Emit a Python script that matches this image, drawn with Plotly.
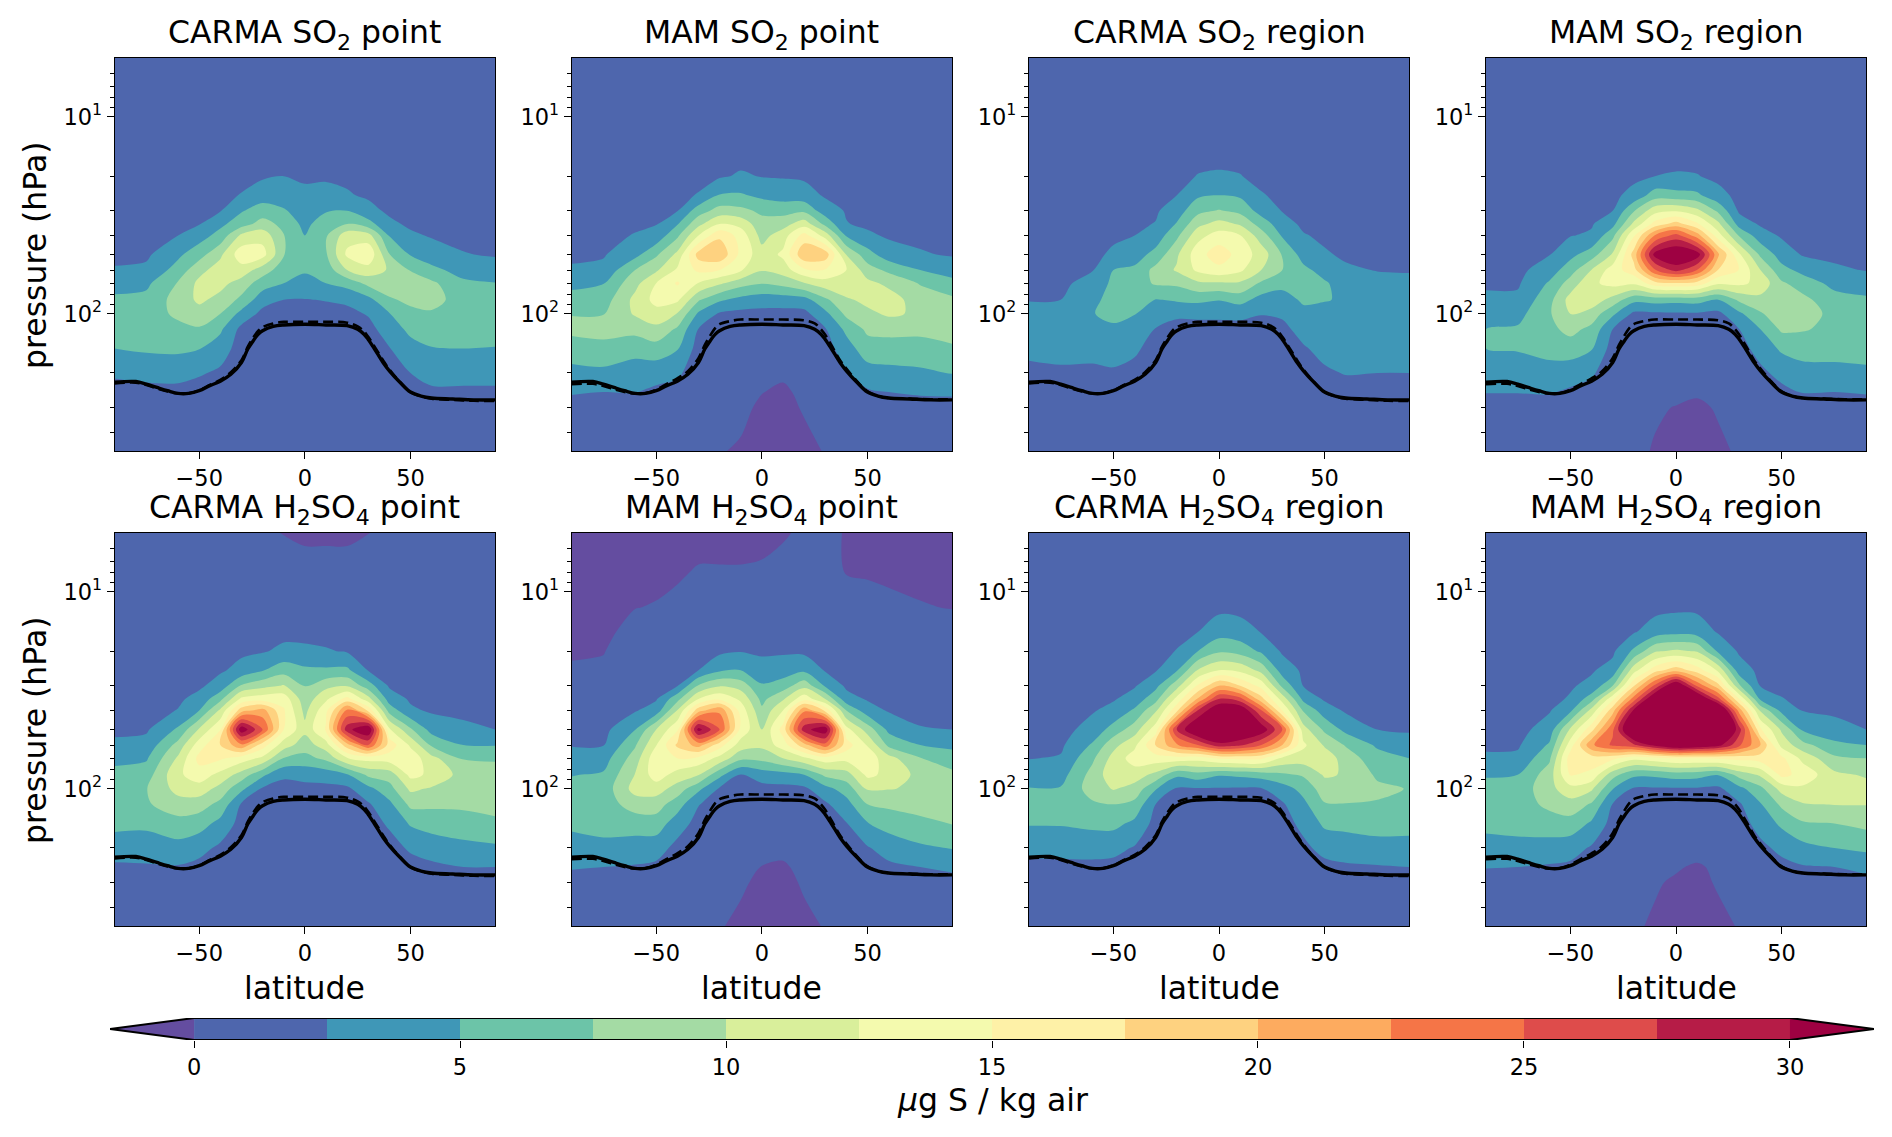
import math
import numpy as np
import plotly.graph_objects as go

LAT = [-90, -75, -60, -50, -40, -30, -20, -10, 0, 10, 20, 30, 40, 50, 60, 75, 90]
PRESSURE = [5, 8, 12, 16, 20, 25, 30, 35, 40, 50, 60, 70, 85, 100, 120, 150, 200, 250, 300, 500]
TITLES = ["CARMA SO<sub>2</sub> point", "MAM SO<sub>2</sub> point", "CARMA SO<sub>2</sub> region", "MAM SO<sub>2</sub> region",
          "CARMA H<sub>2</sub>SO<sub>4</sub> point", "MAM H<sub>2</sub>SO<sub>4</sub> point",
          "CARMA H<sub>2</sub>SO<sub>4</sub> region", "MAM H<sub>2</sub>SO<sub>4</sub> region"]
BAND_COLORS = ["#644da0", "#4e66ad", "#3f97b7", "#6cc4a8", "#a4dba4", "#d9ef9b", "#f4faae",
               "#fef1a7", "#fed280", "#fdab5f", "#f57547", "#de4c4b", "#b61c47", "#9e0142"]
CBAR_TICKS = [0, 5, 10, 15, 20, 25, 30]

TROP_LAT = [-90, -80, -75, -70, -65, -60, -55, -50, -45, -40, -35, -30, -27, -25, -22, -20, -15, -10, 0,
            10, 20, 25, 28, 30, 33, 37, 40, 45, 50, 55, 60, 70, 80, 90]
TROP_SOLID = [223, 221, 228, 237, 246, 254, 254, 246, 232, 220, 203, 177, 151, 140, 127, 122, 116, 114, 113,
              114, 115, 120, 127, 135, 151, 177, 195, 223, 250, 262, 268, 271, 274, 274]
TROP_DASH_CARMA = [226, 224, 230, 240, 248, 254, 254, 245, 230, 217, 198, 172, 147, 135, 122, 117, 112, 110, 110,
                   110, 111, 116, 123, 131, 147, 172, 192, 222, 250, 263, 270, 274, 277, 277]
TROP_DASH_MAM = [228, 227, 233, 242, 250, 255, 253, 243, 227, 213, 196, 168, 144, 132, 118, 113, 109, 107, 107,
                 107, 108, 112, 120, 128, 145, 172, 190, 220, 248, 262, 268, 270, 272, 272]

# Each inner list: one latitude column, values at PRESSURE levels
CARMA_SO2_POINT = [
 [.2,.2,.3,.4,.5,.7,1,1.2,1.5,2,2.7,4,5.5,6.2,6,5,2.9,1.5,1,.5],
 [.2,.2,.3,.4,.5,.7,1,1.2,1.6,2.1,3,4.5,5.7,6.3,6.2,5.4,3.2,1.8,1,.5],
 [.1,.2,.3,.5,.8,1.2,1.6,2,2.5,4.5,6,7.7,8.5,8,6.8,5.5,3.3,1.8,1,.5],
 [.1,.3,.5,.8,1.2,1.7,2.1,2.4,3.9,6.5,9.2,10.6,10.5,9,7.2,5.1,2.8,1.3,.9,.4],
 [.1,.4,.6,1,1.5,2,2.4,4.4,5.9,9.5,11.2,10.8,9.2,7.5,5.4,3.8,2,1,.7,.3],
 [.1,.4,.8,1.3,1.9,2.6,4.8,6.4,10.5,14,11.5,8.9,6.9,4.2,1.8,1.3,1.2,1,.7,.3],
 [.1,.5,1,1.6,2.2,3.8,6.2,8.5,11.5,13.5,8.7,6.2,3.5,1.8,1.2,1.2,1.1,.9,.7,.3],
 [.1,.5,1,1.6,2.5,3.5,5.3,6.8,7.6,7.6,6.2,5,2.5,1.8,1.3,1.2,1.1,.9,.7,.3],
 [.1,.5,1,1.7,2.3,2.8,3.6,4.3,5,6,5.3,4.1,2.4,1.8,1.3,1.2,1.1,.9,.6,.2],
 [.1,.5,1,1.6,2.2,3.2,4.8,6.5,7.2,7.2,6,5,2.6,1.8,1.3,1.2,1.1,.9,.6,.2],
 [.1,.5,.9,1.5,2.1,2.7,5,7.5,11.5,13,10,5.9,3,1.8,1.3,1.2,1.1,.9,.6,.2],
 [.1,.4,.8,1.2,1.7,2.2,3.2,6,11,14.5,11.5,8.2,4.2,2.7,1.7,1.3,1.1,.9,.6,.2],
 [.1,.3,.6,1,1.4,1.8,2.1,3,4.8,7.6,9.7,8.8,7.2,4.9,3.7,2.4,1.4,1,.6,.2],
 [.1,.3,.5,.8,1.1,1.5,1.8,2.1,2.9,4.8,7.4,8.3,8,6.9,5.6,4.1,2.5,1.3,.7,.2],
 [.1,.3,.5,.8,1,1.4,1.7,2,2.3,3.6,5.7,8,8.3,7.2,6,4.9,3.3,2.1,1.1,.3],
 [.1,.2,.4,.6,.8,1.1,1.4,1.7,2,2.6,4,5.5,6.5,6.8,6.2,5,3.3,2.1,1,.3],
 [.1,.2,.3,.5,.7,1,1.2,1.5,1.8,2.3,3.6,5.1,6.2,6.5,6,4.9,3.3,2.1,1,.3],
]
MAM_SO2_POINT = [
 [.2,.3,.4,.6,.8,1.1,1.4,1.6,1.9,2.2,2.7,4.3,6,7.4,8.1,6.4,4.2,2.7,1.6,.5],
 [.2,.3,.4,.6,.8,1.1,1.4,1.7,2,2.3,3.1,4.9,6.3,7.4,8.3,6.8,4.4,2.5,1.6,.5],
 [.2,.3,.5,.7,1,1.4,1.8,2.2,2.6,4.2,7.5,9.2,10.7,10.3,8.2,6.1,3.5,2.6,1.5,.4],
 [.2,.3,.6,.9,1.3,1.8,2.2,2.4,3.3,7.1,9.6,12.5,13.3,11.6,9.3,6.5,3.4,2,1.3,.3],
 [.2,.4,.7,1.1,1.6,2.1,2.4,4.8,7,10.6,12.9,15.3,13,9.9,7.1,5.2,2.9,1.7,1.1,.2],
 [.2,.5,.8,1.3,2,2.6,6.3,9.3,12.5,18.5,15.5,12.4,7.8,4.6,2.4,1.5,1.2,.9,.6,.1],
 [.2,.5,1,1.7,2.2,5.2,8.5,12.5,17,19.5,15,10.4,5.4,2.2,1.4,1.2,1,.8,.5,0.1],
 [.2,.5,1,1.8,2.8,5.3,8.2,11.7,14,14.3,12.8,8.5,4.2,1.8,1.3,1.2,1,.8,.4,-.2],
 [.2,.5,1,1.8,2.4,4.4,7,8.4,9.1,11,10.2,7.6,3.6,1.8,1.2,1,.9,.05,-.3,-.7],
 [.2,.5,1,1.6,2.3,3.9,6.6,9,11.3,13,11.2,8.3,3.7,1.7,1.2,1,.3,-.3,-.5,-.9],
 [.2,.5,.9,1.5,2.1,3.6,7,11.4,16,19.5,14.5,9.9,4,1.8,1.2,.9,.6,.4,.15,-.5],
 [.2,.4,.8,1.2,1.7,2.2,3.7,6.8,11.4,19,14.8,11.4,7,4.3,2.3,1.4,1,.7,.4,.1],
 [.2,.3,.6,1,1.4,1.9,2.3,2.6,4.7,9.9,12.5,12.1,9.6,8.1,5.6,3.9,2.3,1.2,.7,.2],
 [.2,.3,.5,.8,1.1,1.5,1.8,2.1,2.9,6,8.7,10.6,10.7,9.4,8,6.4,3.9,2.2,1.2,.3],
 [.2,.3,.5,.7,1,1.3,1.6,1.9,2.2,3.6,6.9,9.5,11,10.4,8.3,6.4,4.3,2.5,1.4,.3],
 [.2,.3,.4,.6,.9,1.2,1.4,1.7,2,2.7,5,7.3,8.9,9.6,8.2,6.4,4.6,2.8,1.5,.3],
 [.2,.3,.4,.6,.8,1.1,1.3,1.6,1.8,2.3,3.9,5.8,8,9,8.4,7.2,5.1,2.9,1.5,.3],
]
CARMA_SO2_REGION = [
 [.2,.2,.3,.4,.5,.6,.8,1,1.1,1.4,1.7,2,2.4,3.3,4.1,3.1,1.9,1.3,.9,.4],
 [.2,.2,.3,.4,.5,.6,.8,1,1.1,1.4,1.8,2.1,2.5,3.5,4.2,3.3,2.1,1.4,.9,.4],
 [.2,.2,.3,.4,.5,.7,.9,1.2,1.4,1.8,2.4,3.2,4.3,4.9,4.4,3.3,2,1.2,.9,.4],
 [.2,.2,.4,.5,.7,1,1.3,1.6,2,3,5,5.6,6,5.6,4.6,3.5,2.2,1.3,.8,.3],
 [.2,.3,.5,.7,.9,1.3,1.7,2.1,2.5,3.9,5.5,6.3,6.6,5.1,4,2.9,1.8,1.1,.7,.2],
 [.2,.3,.6,.9,1.3,1.8,2.2,2.6,3.6,5.8,8.3,7.8,4.9,3.5,2.4,1.6,1.2,.9,.6,.2],
 [.2,.4,.8,1.3,1.8,2.5,3.8,5.2,6.9,9.6,10.3,8,5.3,3,1.6,1.3,1.2,1,.7,.2],
 [.2,.5,1,1.8,2.6,4.6,6.8,9.3,11.6,14,13,9.5,5.6,3,1.7,1.4,1.2,1,.7,.2],
 [.2,.5,1.1,1.9,2.8,5,7.7,10.9,13.6,16.4,14.3,9.6,5.1,3,1.7,1.4,1.2,1,.7,.2],
 [.2,.5,1,1.8,2.6,4.6,6.8,9.7,12.6,14,13,9.6,6,3,1.8,1.4,1.2,1,.7,.2],
 [.2,.4,.8,1.3,1.8,2.7,4,6.4,8.7,11.4,10,7.1,4,2.6,1.5,1.3,1.1,.9,.7,.2],
 [.2,.3,.6,1,1.4,1.9,2.4,3.6,4.7,7.3,7.5,5.8,3.9,2.8,2,1.5,1.2,.9,.7,.2],
 [.2,.3,.5,.7,1,1.3,1.7,2,2.7,4,5.6,6.2,5.4,4.3,3.2,2.3,1.6,1.1,.8,.2],
 [.2,.2,.4,.6,.8,1.1,1.4,1.7,2,2.8,4.1,5.3,5.1,4.4,3.8,3.1,2.2,1.5,1,.3],
 [.2,.2,.3,.5,.7,.9,1.2,1.4,1.7,2.1,2.9,3.9,4.8,4.6,4,3.3,2.6,1.7,1,.3],
 [.2,.2,.3,.4,.6,.8,1,1.2,1.4,1.8,2.4,3.4,4.2,4.3,3.8,3.3,2.5,1.7,1,.3],
 [.2,.2,.3,.4,.5,.7,.9,1.1,1.3,1.7,2.3,3.2,4.1,4.2,3.8,3.2,2.5,1.6,1,.3],
]
MAM_SO2_REGION = [
 [.2,.2,.3,.4,.5,.6,.8,1,1.2,1.5,1.9,2.2,2.9,4,5,5,3.4,2.6,1.4,.4],
 [.2,.2,.3,.4,.5,.6,.8,1,1.2,1.5,1.9,2.2,3,4.2,5.3,5.2,3.7,2.6,1.4,.4],
 [.2,.2,.4,.5,.7,1,1.3,1.6,1.9,2.4,3.7,5.3,6.7,7.2,6.8,5.9,4,2.7,1.4,.4],
 [.2,.3,.4,.7,1,1.4,1.8,2.1,2.4,4.3,6.4,8.6,11,10.1,8.3,6.2,3.6,2.1,1.2,.3],
 [.2,.3,.5,.8,1.2,1.6,2,2.3,2.8,6.3,10.1,12,11.5,9,6.8,5.2,2.8,1.7,1,.2],
 [.2,.3,.6,1,1.5,2,2.5,4.2,6.8,10.3,13.7,13.3,9.1,5.5,2.5,1.5,1.2,.9,.6,.1],
 [.2,.4,.8,1.4,2,3.2,7.3,10.6,14.7,18.5,16.5,12.9,5.7,2,1.4,1.2,1,.7,.6,.3],
 [.2,.4,.9,1.6,2.5,6.2,11.6,16,22.6,31,24.8,16.5,6,2.1,1.4,1.2,.9,.5,.15,-.1],
 [.2,.5,1,1.9,2.7,5.8,12.3,18.6,26,33,28.5,17.2,5.8,2.2,1.4,1.1,.8,.3,-.05,-.5],
 [.2,.5,1,1.8,2.6,5.5,10.7,15.5,21.2,31.5,24.9,16.5,6,2.2,1.4,1.1,.7,.2,-.3,-.7],
 [.2,.4,.9,1.4,2,3.2,7,10.6,13.6,20.5,17.4,12.9,4.9,1.9,1.3,1,.7,.4,.15,-.3],
 [.2,.3,.6,1,1.4,1.9,2.1,3.9,7.2,12.9,14.9,13.1,8,4.5,2.5,1.5,.9,.6,.3,.2],
 [.2,.3,.5,.8,1.1,1.5,1.9,2.2,3.6,7,10,11.7,9.2,7.2,5,3.5,1.9,1,.6,.2],
 [.2,.3,.4,.7,1,1.3,1.7,2,2.2,3.9,5.8,7.9,9.6,9.1,7.9,5.4,3.3,1.8,1,.2],
 [.2,.2,.4,.6,.8,1.1,1.4,1.7,1.9,2.3,4.3,6.3,8.2,9,7.7,6,4.1,2.6,1.4,.3],
 [.2,.2,.3,.5,.7,.9,1.2,1.4,1.6,2,2.9,4.3,5.9,6.6,6.9,6,4.2,2.5,1.4,.3],
 [.2,.2,.3,.5,.7,.9,1.2,1.3,1.5,1.9,2.4,3.8,5.4,6.3,6.6,5.8,4.6,2.7,1.4,.3],
]
CARMA_H2SO4_POINT = [
 [.1,.2,.3,.4,.5,.7,1,1.2,1.5,2,3,4.3,5.8,6.5,6.6,5.7,3.7,2.1,1.2,.3],
 [.1,.2,.3,.4,.6,.8,1,1.3,1.6,2.2,3.3,4.7,6.3,7.4,7.2,5.5,3.8,2.2,1.2,.3],
 [.1,.2,.4,.6,.9,1.3,1.7,2.1,2.6,5.4,8.4,10.4,12,10.9,8.9,6.6,4.1,2.3,1.3,.3],
 [.1,.3,.5,.8,1.2,1.7,2.1,3.3,5,10.3,13.8,15.8,13.9,11.4,8.6,6.1,3.3,1.8,1.1,.3],
 [.1,.3,.6,1,1.6,2.2,3.5,6.8,10.5,14.9,17.5,15.4,11.7,9.1,6.8,4.2,2,1.3,.9,.3],
 [.1,.4,.8,1.4,2.1,3.2,7.8,13.1,19,32,22,13.8,8.9,5.6,2.2,1.6,1.3,1,.7,.3],
 [.1,.4,.9,1.6,2.3,4.8,9.2,14,21,25,16.2,11.9,5.5,2.2,1.5,1.3,1,.8,.6,.2],
 [-.02,.3,1,1.9,3,6.5,10.2,14,15.3,15,11.2,7.4,2.8,1.9,1.4,1.2,1,.8,.6,.2],
 [-.1,.2,1.1,1.9,2.9,5.5,7.4,8.5,9.3,10.7,8.7,6.7,3.2,1.9,1.4,1.2,1,.8,.6,.2],
 [-.1,.2,1,1.7,2.7,5.4,9.3,12,14.4,15.3,11.4,8.1,3.5,1.9,1.4,1.2,1,.8,.6,.2],
 [-.1,.2,.9,1.6,2.3,5.5,9.8,16,23,29,19,12.4,4.7,2,1.4,1.2,1,.8,.6,.2],
 [-.01,.2,.7,1.2,1.8,2.4,6.2,11,17,33,25,13.4,8,4.3,2.2,1.6,1.2,.9,.7,.3],
 [.1,.3,.5,.9,1.3,1.8,2.2,3.8,6.5,12.9,16.5,13.8,8.6,6.6,4.4,2.8,1.7,1.1,.8,.3],
 [.1,.2,.4,.7,1,1.4,1.8,2.2,2.9,7.9,12.1,14.1,13.2,10.5,8.1,5.3,2.8,1.7,1,.3],
 [.1,.2,.4,.6,.9,1.2,1.6,1.9,2.2,4.1,7.1,10.8,12,9.7,8,6,3.6,2,1.2,.3],
 [.1,.2,.3,.5,.7,1,1.3,1.6,1.9,3.1,5,7.3,9,9.4,8,6.4,4.3,2.5,1.3,.3],
 [.1,.2,.3,.5,.7,.9,1.2,1.5,1.8,2.5,4.9,7.1,9,9.6,8.5,6.9,4.6,2.5,1.3,.3],
]
MAM_H2SO4_POINT = [
 [-.8,-.6,-.4,-.3,-.1,.1,.5,.8,1.1,1.7,2.3,3.8,4.9,5.8,6.3,5.5,4,2.7,1.5,.4],
 [-.7,-.5,-.3,-.2,-.05,.2,.6,.9,1.2,1.8,2.4,3.9,5.3,6,6.3,5.8,4.4,2.5,1.4,.4],
 [-.6,-.2,-.02,.3,.7,1.1,1.6,2,2.3,4.9,7.2,8.7,10.1,11,8.6,6.2,3.8,2.3,1.4,.4],
 [-.5,-.2,.05,.5,1,1.5,2,2.3,3.6,10,12.4,14.3,13.8,11.2,8.6,6.4,3.5,2,1.3,.3],
 [-.4,-.1,.2,.7,1.3,2,2.4,6.7,10.1,14.6,18,15,11.5,8.9,6.2,3.6,1.8,1.1,.8,.3],
 [-.3,.08,.4,1,1.6,2.5,7.8,12.5,19,31,21,14.3,10.1,5.6,2.6,1.7,1.3,1,.7,.3],
 [-.3,.08,.5,1.2,2,4.6,9.8,14.6,22,25,16.1,11.7,5.7,2.2,1.5,1.2,1,.8,.5,.1],
 [-.3,.08,.6,1.5,2.4,5,8.9,12,14,14.3,11.3,8.1,2.4,1.7,1.3,1.1,.8,.5,.2,-.3],
 [-.2,.1,.7,1.5,2.2,3.3,5.3,6.8,8,10,10.6,8.3,3.6,1.7,1.2,1,.7,-.05,-.3,-.7],
 [-.1,.3,.8,1.5,2.2,3.7,6.2,9.7,12.5,16,13.8,10,4,1.8,1.2,.9,.4,-.2,-.5,-.8],
 [.15,.3,.8,1.4,2,4.5,9.2,14.2,22,29,19,12,5,2,1.3,1,.7,.4,.2,-.4],
 [.3,.3,.7,1.2,1.7,2.3,4.7,10,17,32,24,14,8,4.2,2.1,1.5,1.1,.8,.4,.1],
 [-.08,-.03,.4,.8,1.2,1.7,2.1,3.4,7.5,13.4,16.2,13.4,8.9,6.1,4.1,2.4,1.5,1,.7,.2],
 [-.3,-.1,.4,.8,1.2,1.6,2,2.3,3.5,8.9,12.3,14,13.1,10.3,7.5,4.9,2.3,1.5,1,.3],
 [-.4,-.15,.2,.6,1,1.4,1.7,2,2.3,4.4,6.9,10.9,11.8,10.1,8,6,3.5,2,1.3,.3],
 [-.5,-.2,.05,.4,.8,1.1,1.5,1.8,2.1,2.6,5,7.6,9.2,9.7,8.6,6.8,4.6,2.5,1.4,.3],
 [-.6,-.3,-.03,.4,.7,1.1,1.4,1.7,2,2.5,4.5,6,8.2,9,8.5,7.6,5.1,3,1.6,.4],
]
CARMA_H2SO4_REGION = [
 [.2,.2,.3,.4,.5,.7,.9,1.1,1.3,1.7,2,2.4,3.9,5.1,6,5.2,3.2,1.9,1.1,.4],
 [.2,.2,.3,.4,.5,.7,.9,1.1,1.3,1.7,2.1,2.7,4,5.2,6.2,5.2,3.3,1.9,1.1,.4],
 [.2,.3,.4,.6,.9,1.2,1.6,2,2.3,3.4,5.3,7,8.4,8.6,7.1,5.6,3.4,1.9,1.1,.4],
 [.2,.3,.5,.8,1.2,1.6,2,2.3,3.2,6,9.2,10.9,11.6,10.2,7.5,5.7,3.2,1.8,1.1,.4],
 [.2,.3,.6,1,1.5,1.9,2.3,3.5,5.4,8.8,11.9,13.7,11.2,9.1,6.8,4.4,2.3,1.4,1,.3],
 [.2,.4,.7,1.2,1.7,2.3,4.3,6.6,9.6,13.8,17.6,13.9,9.3,5.2,2.5,1.7,1.2,.9,.6,.2],
 [.2,.5,1,1.8,2.6,4.8,9,13.3,16.9,27.5,22.2,14,5.5,2.2,1.5,1.3,1.1,.9,.6,.2],
 [.2,.7,1.6,2.5,5,10.2,15.4,20.3,27.6,34,25,13.6,6.5,2.3,1.6,1.3,1.1,.9,.6,.2],
 [.2,1,1.9,4,7.1,12.5,20,27.6,33,36,29,15.3,5.2,2.3,1.6,1.3,1.1,.9,.6,.2],
 [.2,.9,1.8,3.6,6.5,11.9,17.5,26,33,34,28,15.7,5.5,2.2,1.5,1.3,1.1,.9,.6,.2],
 [.2,.7,1.5,2.4,4.6,9.2,14.2,18.4,25.2,32,25,15.5,6.1,2.3,1.5,1.2,1,.8,.6,.2],
 [.2,.5,1,1.6,2.2,3.8,6.9,11.5,15,25,20,12,7,3.9,2.2,1.6,1.3,1,.7,.2],
 [.2,.4,.7,1.1,1.6,2.1,2.4,4.3,7.2,11,13,11.3,7.8,5.8,4.4,3.1,2,1.3,.9,.3],
 [.2,.3,.5,.8,1.1,1.5,1.9,2.2,3.7,7,9.7,11.6,10.3,8.8,7.3,5.5,3.2,1.9,1.1,.3],
 [.2,.3,.5,.7,1,1.3,1.6,1.9,2.2,4.3,7.3,8.8,9.8,8.7,7.4,5.8,3.5,2.2,1.3,.4],
 [.2,.2,.4,.6,.8,1.1,1.4,1.7,2,2.5,4.6,6,7.1,8,7.3,6,4.1,2.3,1.3,.4],
 [.2,.2,.3,.5,.7,1,1.2,1.5,1.8,2.2,3.6,5,6.5,7.4,6.9,5.9,4.1,2.5,1.4,.4],
]
MAM_H2SO4_REGION = [
 [.2,.2,.3,.4,.5,.7,.9,1.1,1.3,1.7,2.1,2.9,4.8,5.8,6.3,5.7,4,2.6,1.5,.4],
 [.2,.2,.3,.4,.5,.7,.9,1.1,1.3,1.7,2.2,3,5,5.9,6.3,5.9,4.2,2.5,1.5,.4],
 [.2,.3,.4,.6,.9,1.2,1.6,2,2.3,3.6,5.3,7,8.8,9.2,8.1,6.3,4,2.2,1.3,.4],
 [.2,.3,.6,.9,1.4,1.9,2.3,2.7,4.5,10.4,13.8,16.4,15.2,11.6,9,6.5,3.5,2,1.2,.3],
 [.2,.4,.7,1.1,1.7,2.3,3,6.4,10.8,16.7,22,16.3,14.4,10.4,7.2,4.6,2.2,1.4,1,.3],
 [.2,.4,.8,1.4,2.1,3.3,7.5,14.4,19,24.5,25.5,15.7,8.4,5.1,2.4,1.6,1.2,.9,.6,.2],
 [.2,.7,1.5,2.3,5.5,11.5,17.3,23.7,30.5,36,27,13.2,5.5,2.2,1.5,1.3,1.1,.9,.6,.2],
 [.2,1,1.8,3.7,9.7,16.4,25.6,34,37,38,31,14.1,5.5,2.2,1.5,1.2,.9,.5,.15,-.2],
 [.2,1.1,2,4.3,10.5,19,34,38,40,40,34,15.1,6.2,2.2,1.4,1.1,.8,.15,-.2,-.6],
 [.2,1,2,3.9,9.8,16.3,24.6,35,38,39,33,15,6,2.2,1.4,1.1,.7,-.2,-.4,-.7],
 [.2,.7,1.5,2.3,4.5,12,18.4,26,36,38,31,15.3,5.1,2,1.3,1,.6,.3,.15,-.4],
 [.2,.5,1,1.6,2.2,3.5,7.9,15,21.4,28.5,25.5,15.9,8.4,4.3,2.2,1.5,1,.6,.3,.1],
 [.2,.4,.7,1.1,1.6,2,2.4,4.5,9.6,15.4,20,16.3,10.4,6.8,4.8,3.4,1.9,1.2,.8,.2],
 [.2,.3,.5,.8,1.2,1.6,2,2.6,4.3,9.6,11.7,15.6,15.7,10.9,8,5.5,3.1,1.8,1.1,.3],
 [.2,.3,.4,.7,1,1.3,1.7,2,2.4,4.6,8.4,11.8,14.2,12,9.8,7.2,4.2,2.3,1.4,.4],
 [.2,.2,.4,.6,.8,1.1,1.4,1.7,2,3.5,5.6,8,10.6,11.2,10.1,7.5,5,2.5,1.4,.3],
 [.2,.2,.4,.6,.8,1.1,1.4,1.6,1.9,2.5,5,7.5,9.7,10.9,10.1,8.2,5.5,3.2,1.7,.4],
]

PANELS = [CARMA_SO2_POINT, MAM_SO2_POINT, CARMA_SO2_REGION, MAM_SO2_REGION,
          CARMA_H2SO4_POINT, MAM_H2SO4_POINT, CARMA_H2SO4_REGION, MAM_H2SO4_REGION]
DASHES = [TROP_DASH_CARMA, TROP_DASH_MAM, TROP_DASH_CARMA, TROP_DASH_MAM,
          TROP_DASH_CARMA, TROP_DASH_MAM, TROP_DASH_CARMA, TROP_DASH_MAM]

W, H = 1892, 1137
FONT = "DejaVu Sans"
EDGE = 0.7
PANEL_X = [(114, 495.7), (571, 952.7), (1028.3, 1409.7), (1485.3, 1866.7)]
PANEL_Y = [(57, 452), (532, 927)]
TITLE_Y = [34.5, 509.5]
TITLE_SIZE = 31.5
TICK_SIZE = 22.5

N = len(BAND_COLORS)
COLORSCALE = []
for i, c in enumerate(BAND_COLORS):
    COLORSCALE += [[i / N, c], [(i + 1) / N, c]]

fig = go.Figure()
annotations = []
layout_axes = {}
MINOR_Y = [6, 7, 8, 9, 20, 30, 40, 50, 60, 70, 80, 90, 200, 300, 400]

for k, z_cols in enumerate(PANELS):
    r, c = k // 4, k % 4
    s = "" if k == 0 else str(k + 1)
    xd, yd = PANEL_X[c], PANEL_Y[r]
    fig.add_trace(go.Contour(
        x=LAT, y=PRESSURE, z=np.array(z_cols, dtype=float).T.tolist(),
        xaxis="x" + s, yaxis="y" + s,
        colorscale=COLORSCALE, zmin=-2.5, zmax=32.5, showscale=False, autocontour=False,
        contours=dict(start=0, end=30, size=2.5, coloring="fill", showlines=False),
        line=dict(width=0, smoothing=0.9), hoverinfo="skip"))
    fig.add_trace(go.Scatter(x=TROP_LAT, y=DASHES[k], xaxis="x" + s, yaxis="y" + s, mode="lines",
                             line=dict(color="black", width=2.6, dash="10px,5px", shape="spline"), showlegend=False))
    fig.add_trace(go.Scatter(x=TROP_LAT, y=TROP_SOLID, xaxis="x" + s, yaxis="y" + s, mode="lines",
                             line=dict(color="black", width=3.4, shape="spline"), showlegend=False))
    layout_axes["xaxis" + s] = dict(
        domain=[(xd[0] + EDGE) / W, (xd[1] - EDGE) / W], range=[-90, 90], anchor="y" + s,
        tickmode="array", tickvals=[-50, 0, 50], ticks="outside", ticklen=7, tickwidth=1.4, tickcolor="black",
        showline=True, linecolor="black", linewidth=1.3, mirror=True, showgrid=False, zeroline=False,
        tickfont=dict(family=FONT, size=TICK_SIZE, color="black"))
    layout_axes["yaxis" + s] = dict(
        domain=[1 - (yd[1] - EDGE) / H, 1 - (yd[0] + EDGE) / H], type="log", range=[math.log10(500), math.log10(5)], anchor="x" + s,
        tickmode="array", tickvals=[10, 100], ticktext=["10<sup>1</sup>", "10<sup>2</sup>"],
        ticks="outside", ticklen=7, tickwidth=1.4, tickcolor="black",
        minor=dict(tickmode="array", tickvals=MINOR_Y, ticks="outside", ticklen=4, tickwidth=1, tickcolor="black", showgrid=False),
        showline=True, linecolor="black", linewidth=1.3, mirror=True, showgrid=False, zeroline=False,
        tickfont=dict(family=FONT, size=TICK_SIZE, color="black"))
    annotations.append(dict(text=TITLES[k], x=(xd[0] + xd[1]) / 2 / W, y=1 - TITLE_Y[r] / H, xref="paper", yref="paper",
                            showarrow=False, xanchor="center", yanchor="middle",
                            font=dict(family=FONT, size=TITLE_SIZE, color="black")))
    if r == 1:
        annotations.append(dict(text="latitude", x=(xd[0] + xd[1]) / 2 / W, y=1 - 988 / H, xref="paper", yref="paper",
                                showarrow=False, xanchor="center", yanchor="middle",
                                font=dict(family=FONT, size=TITLE_SIZE, color="black")))
    if c == 0:
        annotations.append(dict(text="pressure (hPa)", x=35 / W, y=1 - (yd[0] + 198) / H, xref="paper", yref="paper",
                                showarrow=False, xanchor="center", yanchor="middle", textangle=-90,
                                font=dict(family=FONT, size=TITLE_SIZE, color="black")))

# Colour bar built from the same bands on its own axis
CB_LEFT, CB_RIGHT, CB_TOP, CB_BOT = 110, 1874, 1018, 1040
edges = [2.5 * i for i in range(13)]
mids = [2.5 * i + 1.25 for i in range(12)]
fig.add_trace(go.Heatmap(x=edges, y=[0, 1], z=[mids], xaxis="x9", yaxis="y9", colorscale=COLORSCALE,
                         zmin=-2.5, zmax=32.5, showscale=False, hoverinfo="skip"))
fig.add_trace(go.Scatter(x=[0, -1.58, 0, 0], y=[0, .5, 1, 0], xaxis="x9", yaxis="y9", mode="lines", fill="toself",
                         fillcolor=BAND_COLORS[0], line=dict(width=0), showlegend=False))
fig.add_trace(go.Scatter(x=[30, 31.58, 30, 30], y=[0, .5, 1, 0], xaxis="x9", yaxis="y9", mode="lines", fill="toself",
                         fillcolor=BAND_COLORS[-1], line=dict(width=0), showlegend=False))
fig.add_trace(go.Scatter(x=[0, -1.58, 0, 30, 31.58, 30, 0], y=[1, .5, 0, 0, .5, 1, 1], xaxis="x9", yaxis="y9", mode="lines",
                         line=dict(color="black", width=2), cliponaxis=False, showlegend=False))
layout_axes["xaxis9"] = dict(domain=[CB_LEFT / W, CB_RIGHT / W], range=[-1.58, 31.58], anchor="y9",
                             tickmode="array", tickvals=CBAR_TICKS, ticks="outside", ticklen=7, tickwidth=1.4, tickcolor="black",
                             showline=False, showgrid=False, zeroline=False,
                             tickfont=dict(family=FONT, size=TICK_SIZE, color="black"))
layout_axes["yaxis9"] = dict(domain=[1 - CB_BOT / H, 1 - CB_TOP / H], range=[0, 1], anchor="x9", visible=False, fixedrange=True)
annotations.append(dict(text="<i>μ</i>g S / kg air", x=992 / W, y=1 - 1100 / H, xref="paper", yref="paper",
                        showarrow=False, xanchor="center", yanchor="middle",
                        font=dict(family=FONT, size=TITLE_SIZE, color="black")))

fig.update_layout(width=W, height=H, margin=dict(l=0, r=0, t=0, b=0, pad=0), paper_bgcolor="white", plot_bgcolor="white",
                  showlegend=False, annotations=annotations, font=dict(family=FONT), **layout_axes)
fig.write_html("out.html", config={"displayModeBar": False},
               post_script="document.body.style.margin='0';document.body.style.overflow='hidden';")
